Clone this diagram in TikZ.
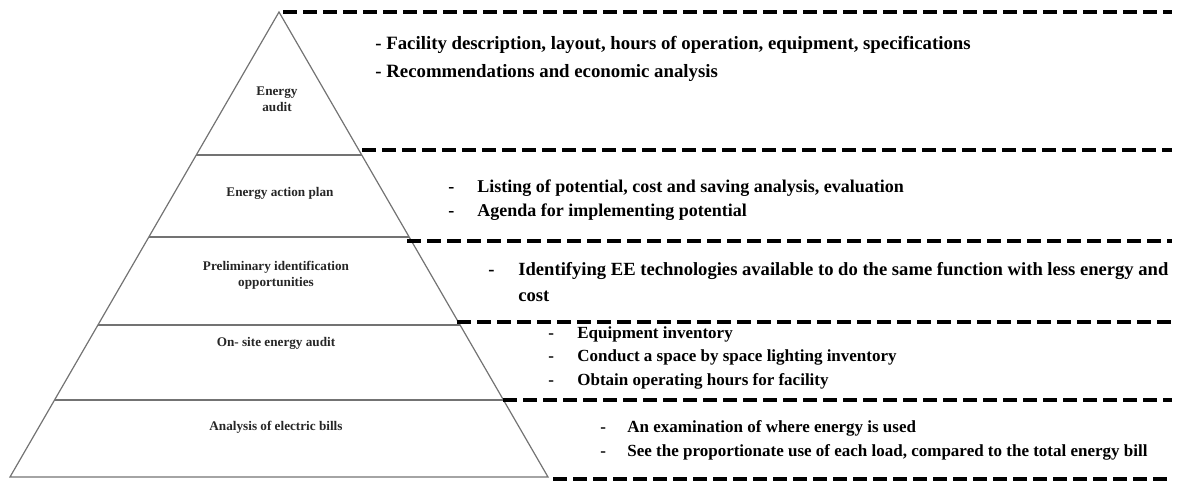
\documentclass[tikz,border=0pt]{standalone}
\usepackage{fontspec}
\setmainfont{Liberation Serif}
\colorlet{pyrgray}{black!55}

\begin{document}
\begin{tikzpicture}[x=0.5pt,y=-0.5pt,
    level/.style={font=\bfseries\fontsize{6.6}{8}\selectfont, align=center, text=black!85},
    item/.style={anchor=base west, inner sep=0pt, font=\bfseries\fontsize{9}{12.5}\selectfont},
    smallitem/.style={item, font=\bfseries\fontsize{8.5}{10}\selectfont},
    bigitem/.style={item, font=\bfseries\fontsize{9.3}{12.5}\selectfont},
    sepline/.style={line width=2pt, dash pattern=on 7pt off 3pt}]

  \useasboundingbox (0,0) rectangle (1185,481);

  % pyramid
  \coordinate (apex) at (279,12);
  \coordinate (bl) at (10,477);
  \coordinate (br) at (548,477);
  \draw [pyrgray, line width=0.6pt] (bl) -- (apex) -- (br) -- cycle;
  \draw [pyrgray, line width=0.6pt] (196.3,155) -- (361.7,155);
  \draw [pyrgray, line width=0.6pt] (148.8,237) -- (409.2,237);
  \draw [pyrgray, line width=0.6pt] (97.9,325) -- (460.1,325);
  \draw [pyrgray, line width=0.6pt] (54.5,400) -- (503.5,400);

  % dashed separators
  \draw [sepline] (283,12) -- (1172,12);
  \draw [sepline] (362,150) -- (1172,150);
  \draw [sepline] (407,241) -- (1172,241);
  \draw [sepline] (457,322) -- (1172,322);
  \draw [sepline] (503,400) -- (1172,400);
  \draw [sepline] (553,479) -- (1172,479);

  % pyramid labels
  \node [level] (audit) at (277,99) {Energy\\audit};
  \node [level] (plan) at (280,193) {Energy action plan};
  \node [level] (prelim) at (276,275) {Preliminary identification\\opportunities};
  \node [level] (onsite) at (276,343) {On- site energy audit};
  \node [level] (bills) at (276,427) {Analysis of electric bills};

  % energy audit
  \node [item, font=\bfseries\fontsize{9.4}{12.5}\selectfont] (facility) at (375,50) {- Facility description, layout, hours of operation, equipment, specifications};
  \node [item, font=\bfseries\fontsize{9.4}{12.5}\selectfont] (recomm) at (375,78) {- Recommendations and economic analysis};

  % action plan
  \node [item] (dlisting) at (448,192) {-};
  \node [item] (listing) at (477,192) {Listing of potential, cost and saving analysis, evaluation};
  \node [item] (dagenda) at (448,217) {-};
  \node [item] (agenda) at (477,217) {Agenda for implementing potential};

  % preliminary identification
  \node [bigitem] (dident) at (488,276) {-};
  \node [bigitem] (ident) at (518,276)
    {Identifying EE technologies available to do the same function with less energy and};
  \node [bigitem] (cost) at (518,301) {cost};

  % on-site audit
  \node [smallitem] (dequip) at (548,338) {-};
  \node [smallitem] (equip) at (577,338) {Equipment inventory};
  \node [smallitem] (dspace) at (548,361) {-};
  \node [smallitem] (space) at (577,361) {Conduct a space by space lighting inventory};
  \node [smallitem] (dhours) at (548,386) {-};
  \node [smallitem] (hours) at (577,386) {Obtain operating hours for facility};

  % electric bills
  \node [smallitem] (dexam) at (600,432) {-};
  \node [smallitem] (exam) at (627,432) {An examination of where energy is used};
  \node [smallitem] (dload) at (600,456) {-};
  \node [smallitem] (load) at (627,456) {See the proportionate use of each load, compared to the total energy bill};

\end{tikzpicture}
\end{document}
